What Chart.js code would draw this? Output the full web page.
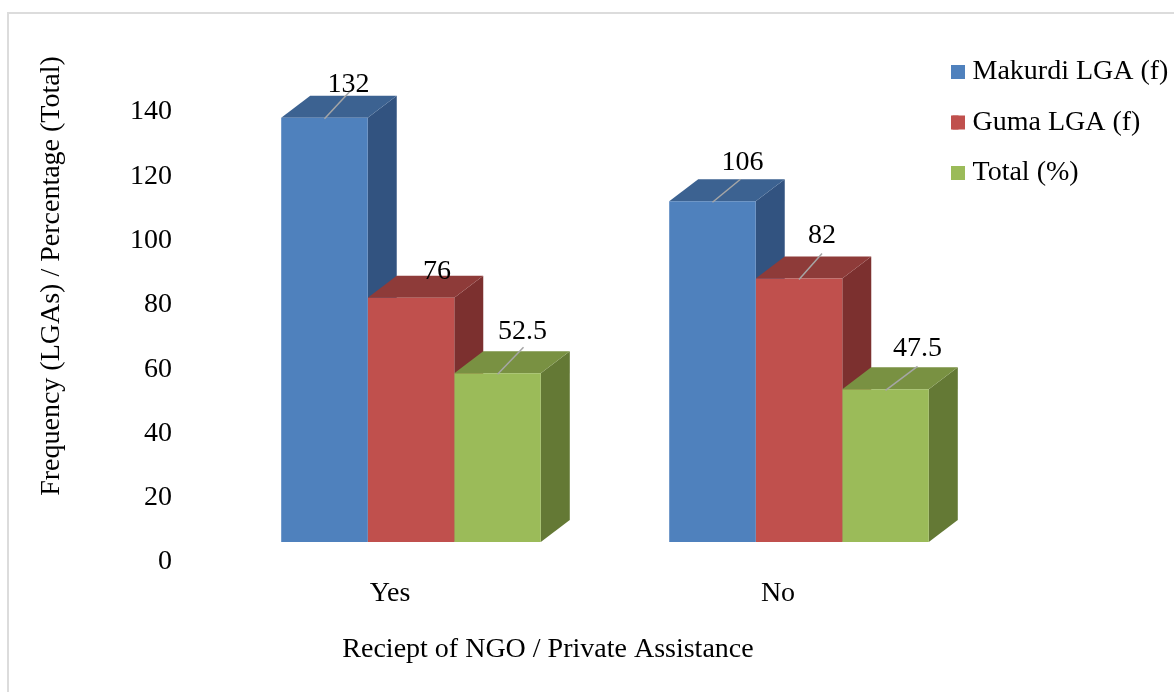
<!DOCTYPE html>
<html>
<head>
<meta charset="utf-8">
<script src="https://cdn.jsdelivr.net/npm/chart.js@4"></script>
<style>
html,body{margin:0;padding:0;background:#fff;overflow:hidden}
#wrap{position:absolute;left:0;top:0;width:1174px;height:692px}
#frame{position:absolute;left:7px;top:12px;width:1167px;height:680px;border-left:2px solid #dcdcdc;border-top:2px solid #dcdcdc;box-sizing:border-box}
canvas{position:absolute;left:0;top:0}
</style>
</head>
<body>
<div id="wrap"><div id="frame"></div><canvas id="c" width="1174" height="692"></canvas></div>
<script>
const categories = ['Yes', 'No'];
const makurdi = [132, 106];
const guma = [76, 82];
const total = [52.5, 47.5];
const seriesNames = ['Makurdi LGA (f)', 'Guma LGA (f)', 'Total (%)'];
const frontColors = ['#4F81BD', '#C0504D', '#9BBB59'];
const topColors = ['#3C6291', '#8E3B39', '#799142'];
const sideColors = ['#325380', '#7C302F', '#647935'];
const xTitle = 'Reciep\u0074 of NGO / Private Assistance';
const yTitle = 'Frequency (LGAs) / Percentage (Total)';
const FONT = '"Liberation Serif", "Times New Roman", serif';
const SIZE = 28;

// 3D projection of the bars relative to the axes
const FLOOR = {dx: 21, dy: -20};
const DEPTH = {dx: 29, dy: -22};
// label anchor offsets from the top-centre of each front face [dx, dy], leader-line end [dx, dy] (null = none)
const labelOffsets = [
  [[24, -33], [26, -27]],
  [[26, -26], null],
  [[25, -42], [26, -26]],
  [[30, -39], [28, -22]],
  [[23, -43], [23, -25]],
  [[32, -41], [32, -23]]
];

const bars3d = {
  id: 'bars3d',
  beforeDatasetsDraw(chart) {
    const ctx = chart.ctx;
    ctx.save();
    ctx.translate(FLOOR.dx, FLOOR.dy);
    chart.data.datasets.forEach((ds, i) => {
      chart.getDatasetMeta(i).data.forEach(b => {
        const l = b.x - b.width / 2, r = b.x + b.width / 2, t = b.y, bt = b.base;
        ctx.fillStyle = sideColors[i];
        ctx.beginPath();
        ctx.moveTo(r, t); ctx.lineTo(r + DEPTH.dx, t + DEPTH.dy);
        ctx.lineTo(r + DEPTH.dx, bt + DEPTH.dy); ctx.lineTo(r, bt);
        ctx.closePath(); ctx.fill();
        ctx.fillStyle = topColors[i];
        ctx.beginPath();
        ctx.moveTo(l, t); ctx.lineTo(l + DEPTH.dx, t + DEPTH.dy);
        ctx.lineTo(r + DEPTH.dx, t + DEPTH.dy); ctx.lineTo(r, t);
        ctx.closePath(); ctx.fill();
      });
    });
  },
  afterDatasetsDraw(chart) {
    const ctx = chart.ctx;
    ctx.restore();
    ctx.save();
    ctx.font = SIZE + 'px ' + FONT;
    ctx.fillStyle = '#000';
    ctx.textAlign = 'center';
    ctx.textBaseline = 'middle';
    let n = 0;
    const nCat = categories.length;
    for (let c = 0; c < nCat; c++) {
      chart.data.datasets.forEach((ds, i) => {
        const b = chart.getDatasetMeta(i).data[c];
        const cx = b.x + FLOOR.dx, cy = b.y + FLOOR.dy;
        const [lab, line] = labelOffsets[n++];
        if (line) {
          ctx.strokeStyle = '#a6a6a6';
          ctx.lineWidth = 1.5;
          ctx.beginPath();
          ctx.moveTo(cx, cy + 1);
          ctx.lineTo(cx + line[0], cy + line[1]);
          ctx.stroke();
        }
        ctx.fillText(String(ds.data[c]), cx + lab[0], cy + lab[1]);
      });
    }
    ctx.restore();
  },
  afterDraw(chart) {
    const ctx = chart.ctx;
    ctx.save();
    ctx.font = SIZE + 'px ' + FONT;
    ctx.fillStyle = '#000';
    ctx.textAlign = 'center';
    ctx.textBaseline = 'middle';
    ctx.fillText(xTitle, 548, 649.5);
    ctx.translate(52, 276);
    ctx.rotate(-Math.PI / 2);
    ctx.fillText(yTitle, 0, 0);
    ctx.restore();
    const lg = chart.legend;
    ctx.save();
    lg.legendHitBoxes.forEach((h, i) => {
      ctx.fillStyle = frontColors[i];
      ctx.fillRect(951, h.top + h.height / 2 - 7, 14, 14);
    });
    ctx.restore();
  },
  afterLayout(chart) {
    const lg = chart.legend;
    lg.left = 930; lg.right = 1174; lg.top = 35.5; lg.bottom = 300;
    lg.width = 244; lg.height = 264.5;
    lg.adjustHitBoxes();
  }
};

new Chart(document.getElementById('c'), {
  type: 'bar',
  data: {
    labels: categories,
    datasets: [makurdi, guma, total].map((d, i) => ({
      label: seriesNames[i],
      data: d,
      backgroundColor: frontColors[i],
      borderWidth: 0,
      barPercentage: 1,
      categoryPercentage: 0.669
    }))
  },
  plugins: [bars3d],
  options: {
    responsive: false,
    animation: false,
    events: [],
    layout: {padding: {left: 96, top: 112, right: 202, bottom: 80}},
    scales: {
      x: {
        grid: {display: false},
        border: {display: false},
        afterFit(s) { s.height = 50; },
        ticks: {color: '#000', padding: 7, font: {family: FONT, size: SIZE}, maxRotation: 0}
      },
      y: {
        min: 0, max: 140,
        grid: {display: false, drawTicks: false},
        border: {display: false},
        afterFit(s) { s.width = 100; },
        ticks: {color: '#000', stepSize: 20, padding: 24, font: {family: FONT, size: SIZE}}
      }
    },
    plugins: {
      tooltip: {enabled: false},
      legend: {
        position: 'chartArea',
        align: 'start',
        labels: {
          color: '#000',
          font: {family: FONT, size: SIZE},
          boxWidth: 6,
          boxHeight: 14,
          padding: 22.5,
          textAlign: 'left'
        }
      }
    }
  }
});
</script>
</body>
</html>
